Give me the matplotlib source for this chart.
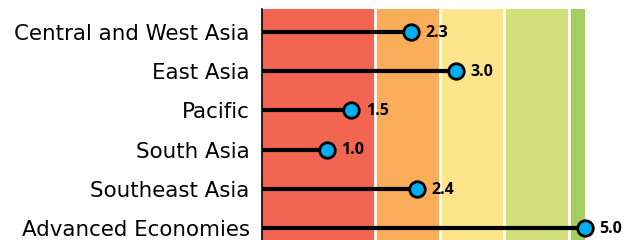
import matplotlib.pyplot as plt

regions = ['Central and West Asia', 'East Asia', 'Pacific', 'South Asia',
           'Southeast Asia', 'Advanced Economies']
# dot positions as drawn in the source (Pacific dot sits left of its 1.5 label)
scores = [2.3, 3.0, 1.38, 1.0, 2.4, 5.0]
score_labels = ['2.3', '3.0', '1.5', '1.0', '2.4', '5.0']
band_edges = [0, 1.75, 2.75, 3.75, 4.75, 5.0]
band_colors = ['#F26651', '#F9AD58', '#FEE58B', '#D3E17C', '#A4CE60']

plt.rcParams['font.family'] = ['DejaVu Sans']

fig = plt.figure(figsize=(6.25, 2.4), dpi=100)
ax = fig.add_axes([262/625, 0, 323/625, 1 - 9/240])

for i in range(len(band_colors)):
    ax.axvspan(band_edges[i], band_edges[i+1], color=band_colors[i], lw=0, zorder=0)
for e in band_edges[1:-1]:
    ax.axvline(e, color='white', lw=2, zorder=1)

y = list(range(len(regions)))
ax.hlines(y, 0, scores, color='black', lw=3, zorder=2)
ax.scatter(scores, y, s=125, color='#00AEEF', edgecolor='black', linewidth=2,
           zorder=3, clip_on=False)
for yi, v, t in zip(y, scores, score_labels):
    ax.annotate(t, (v, yi), xytext=(10.5, -0.5), textcoords='offset points',
                va='center', ha='left', fontsize=11.5, fontweight='bold',
                family=['Open Sans', 'DejaVu Sans'], annotation_clip=False)

ax.set_xlim(0, 5)
ax.set_ylim(5.306, -0.587)
ax.set_yticks(y)
ax.set_yticklabels(regions, fontsize=15.4)
ax.tick_params(axis='y', length=0, pad=9)
ax.set_xticks([])
for s in ['top', 'right', 'bottom']:
    ax.spines[s].set_visible(False)
ax.spines['left'].set_linewidth(1.2)

fig.savefig('out.png', dpi=100)
